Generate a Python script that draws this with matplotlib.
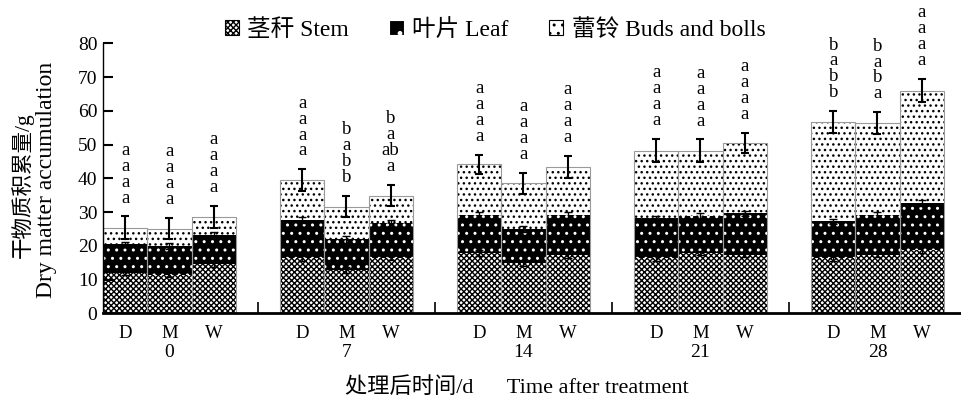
import numpy as np
import matplotlib
matplotlib.use("Agg")
import matplotlib.pyplot as plt
import matplotlib.patches as mpatches

plt.rcParams['font.family'] = ['Liberation Serif', 'Noto Sans CJK SC']
plt.rcParams['hatch.linewidth'] = 1.0

# data (g), bars ordered D, M, W within each day
days = ['0', '7', '14', '21', '28']
treatments = ['D', 'M', 'W']
stem = [12.0, 11.4, 14.5, 16.3, 12.8, 16.3, 17.8, 14.8, 17.3, 16.3, 17.8, 17.3, 16.3, 17.3, 18.8]
leaf = [8.4, 8.6, 8.7, 11.3, 9.1, 10.5, 11.3, 10.2, 11.8, 11.8, 11.0, 12.3, 11.0, 11.8, 14.0]
buds = [5.0, 5.1, 5.4, 11.9, 9.7, 8.1, 15.0, 13.5, 14.3, 20.1, 19.4, 20.8, 29.3, 27.2, 33.2]
stem_err = [0.7, 0.6, 0.8, 0.7, 0.8, 0.6, 0.9, 0.7, 0.8, 0.8, 0.6, 0.7, 0.8, 0.7, 0.8]
leaf_err = [0.8, 0.9, 0.9, 0.8, 1.0, 0.9, 0.8, 1.0, 0.9, 0.8, 0.9, 0.8, 0.7, 0.8, 0.9]
total_err = [3.3, 3.2, 3.2, 3.2, 3.2, 3.1, 2.9, 3.1, 3.2, 3.5, 3.3, 3.0, 3.3, 3.3, 3.4]
letters = ['a\na\na\na', 'a\na\na\na', 'a\na\na\na',
           'a\na\na\na', 'b\na\nb\nb', 'b\na\nab\na',
           'a\na\na\na', 'a\na\na\na', 'a\na\na\na',
           'a\na\na\na', 'a\na\na\na', 'a\na\na\na',
           'b\na\nb\nb', 'b\na\nb\na', 'a\na\na\na']
legend_labels = ['茎秆 Stem', '叶片 Leaf', '蕾铃 Buds and bolls']

stem = np.array(stem)
leaf = np.array(leaf)
buds = np.array(buds)
leaf_top = stem + leaf
total = leaf_top + buds
x = np.array([g * 4 + j for g in range(len(days)) for j in range(len(treatments))], dtype=float)

fig = plt.figure(figsize=(9.62, 4.04), dpi=100)
ax = fig.add_axes([103 / 962, 90.7 / 404, 859 / 962, 270 / 404])

w = 1.0
ax.bar(x, stem, w, color='white', edgecolor='black', linewidth=0, hatch='xxxxxx')
ax.bar(x, leaf, w, bottom=stem, color='black', edgecolor='white', linewidth=0, hatch='..')
ax.bar(x, buds, w, bottom=leaf_top, color='white', edgecolor='black', linewidth=0, hatch='...')
ax.bar(x, total, w, fill=False, edgecolor='#9a9a9a', linewidth=0.8)

ax.errorbar(x, stem, yerr=stem_err, fmt='none', ecolor='black', elinewidth=1, capsize=3, capthick=1)
ax.errorbar(x, leaf_top, yerr=leaf_err, fmt='none', ecolor='black', elinewidth=1, capsize=3, capthick=1)
ax.errorbar(x, total, yerr=total_err, fmt='none', ecolor='black', elinewidth=1.5, capsize=3.2, capthick=1.5)

for xi, t, e, lab in zip(x, total, total_err, letters):
    ax.annotate(lab, (xi, t + e), xytext=(0, 7), textcoords='offset points',
                ha='center', va='bottom', multialignment='center',
                fontsize=13.5, linespacing=0.92)

ax.set_xlim(-0.5, 18.91)
ax.set_ylim(0, 80)
ax.set_yticks(range(0, 81, 10))
ax.tick_params(axis='y', direction='in', length=7, width=1.5, labelsize=14, pad=4)

ax.set_xticks(x, treatments * len(days))
ax.tick_params(axis='x', which='major', length=0, labelsize=13.5, pad=8.5)
ax.set_xticks([3, 7, 11, 15], minor=True)
ax.tick_params(axis='x', which='minor', direction='in', length=8, width=1.2)

for g, d in enumerate(days):
    ax.text(g * 4 + 1, -0.145, d, transform=ax.get_xaxis_transform(),
            ha='center', va='center', fontsize=14)

ax.set_xlabel('处理后时间/d      Time after treatment', fontsize=16)
ax.xaxis.set_label_coords(0.482, -0.235)

for s in ['top', 'right']:
    ax.spines[s].set_visible(False)
ax.spines['bottom'].set_linewidth(2)
ax.spines['left'].set_linewidth(1)

fig.text(22 / 962, 1 - 185 / 404, '干物质积累量/g', rotation=90, ha='center', va='center', fontsize=15.5)
fig.text(47 / 962, 1 - 180 / 404, 'Dry matter accumulation', rotation=90, ha='center', va='center', fontsize=17)

handles = [
    mpatches.Patch(facecolor='white', edgecolor='black', hatch='xxxxxx', linewidth=0.8),
    mpatches.Patch(facecolor='black', edgecolor='white', hatch='.', linewidth=0.8),
    mpatches.Patch(facecolor='white', edgecolor='black', hatch='..', linewidth=0.8),
]
fig.legend(handles, legend_labels, loc='center', bbox_to_anchor=(495 / 962, 1 - 30 / 404),
           ncol=3, frameon=False, fontsize=17, handlelength=0.62, handleheight=0.62,
           handletextpad=0.35, columnspacing=1.7)

fig.savefig('out.png', dpi=100)
